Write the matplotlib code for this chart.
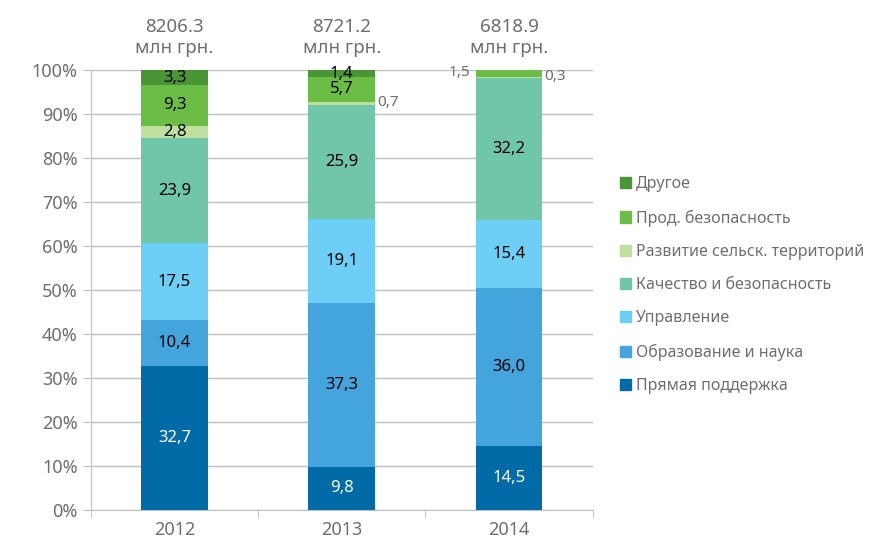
import numpy as np
import matplotlib.pyplot as plt

plt.rcParams['font.family'] = ['Noto Sans', 'DejaVu Sans']

# ---- data ----
years = ["2012", "2013", "2014"]
totals = ["8206.3", "8721.2", "6818.9"]

categories = [
    "Прямая поддержка",
    "Образование и наука",
    "Управление",
    "Качество и безопасность",
    "Развитие сельск. территорий",
    "Прод. безопасность",
    "Другое",
]

direct = [32.7, 9.8, 14.5]
education = [10.4, 37.3, 36.0]
management = [17.5, 19.1, 15.4]
quality = [23.9, 25.9, 32.2]
rural = [2.8, 0.7, 0.3]
food = [9.3, 5.7, 1.5]
other = [3.3, 1.4, 0.0]

series = [direct, education, management, quality, rural, food, other]

colors = ["#006BA6", "#43A5DC", "#6DCFF6", "#70C6A9", "#BFDF9F", "#6ABD45", "#4A9535"]
grey = "#6E6E6E"

fig = plt.figure(figsize=(8.78, 5.40), dpi=100)
ax = fig.add_axes([0.1036, 0.0556, 0.5714, 0.8148])

x = np.arange(len(years))
width = 0.4
bottom = np.zeros(len(years))

for vals, col in zip(series, colors):
    ax.bar(x, vals, width, bottom=bottom, color=col, zorder=3)
    bottom += np.array(vals)

# ---- labels inside / outside ----
bottom = np.zeros(len(years))
for s, (vals, col) in enumerate(zip(series, colors)):
    for i, v in enumerate(vals):
        mid = bottom[i] + v / 2
        if v >= 1.0:
            txt_col = "white" if s == 0 else "black"
            ax.text(x[i], mid, f"{v:.1f}".replace(".", ","), ha="center",
                    va="center", fontsize=12, color=txt_col, zorder=4)
        elif v > 0:
            ax.text(x[i] + width / 2 + 0.01, mid + 0.2, f"{v:.1f}".replace(".", ","),
                    ha="left", va="center", fontsize=11, color=grey, zorder=4)
    bottom += np.array(vals)

# 2014 food label sits left of the bar
for t in ax.texts:
    if t.get_text() == "1,5":
        t.set_position((x[2] - width / 2 - 0.03, 99.5))
        t.set_ha("right")
        t.set_color(grey)
        t.set_fontsize(11)

# totals above bars
for i, tot in enumerate(totals):
    ax.text(x[i], 103, f"{tot}\nмлн грн.", ha="center", va="bottom",
            fontsize=13.5, color=grey, linespacing=1.2)

ax.set_ylim(0, 100)
ax.set_xlim(-0.5, 2.5)
ax.set_yticks(np.arange(0, 101, 10))
ax.set_yticklabels([f"{v}%" for v in range(0, 101, 10)])
ax.set_xticks(x)
ax.set_xticklabels(years)
ax.set_xticks([-0.5, 0.5, 1.5, 2.5], minor=True)

ax.yaxis.grid(True, color="#BFBFBF", linewidth=1, zorder=0)
for side in ["top", "right"]:
    ax.spines[side].set_visible(False)
ax.spines["left"].set_color("#BFBFBF")
ax.spines["bottom"].set_color("#BFBFBF")

ax.tick_params(axis="y", colors="#BFBFBF", labelcolor=grey, labelsize=13, length=6)
ax.tick_params(axis="x", which="major", length=0, labelcolor=grey, labelsize=13, pad=8)
ax.tick_params(axis="x", which="minor", length=6, color="#BFBFBF")

# legend
handles = [plt.Rectangle((0, 0), 1, 1, color=c) for c in colors]
leg = fig.legend(handles[::-1], categories[::-1], loc="upper left",
                 bbox_to_anchor=(0.69, 0.700), frameon=False, fontsize=11.5,
                 handlelength=0.7, handleheight=0.7, handletextpad=0.3,
                 labelspacing=1.08)
for t in leg.get_texts():
    t.set_color(grey)

plt.savefig("out.png", dpi=100)
